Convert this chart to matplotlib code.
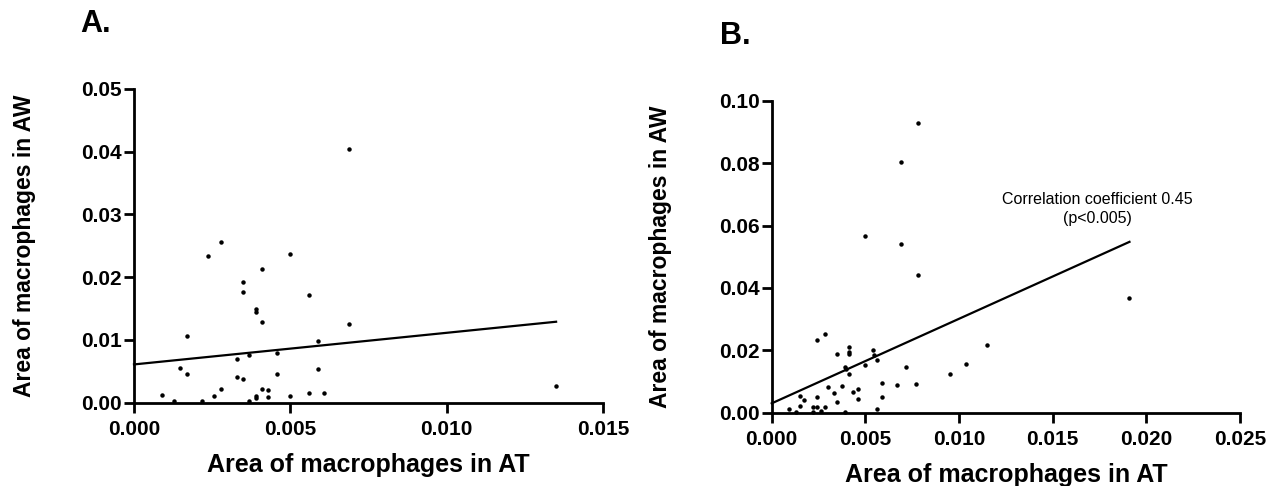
import matplotlib
matplotlib.use("Agg")
import matplotlib.pyplot as plt
import numpy as np

plt.rcParams['font.family'] = ['Liberation Sans', 'DejaVu Sans']

# Panel A data (Area of macrophages in AT vs AW)
a_x = [0.00687, 0.00278, 0.00238, 0.00500, 0.00409, 0.00348, 0.00348, 0.00559,
       0.00389, 0.00389, 0.00409, 0.00688, 0.00169, 0.00589, 0.00328, 0.00369,
       0.00458, 0.00147, 0.00169, 0.00589, 0.00458, 0.00328, 0.00348, 0.00088,
       0.00128, 0.00218, 0.00257, 0.00278, 0.00369, 0.00389, 0.00389, 0.00409,
       0.00428, 0.00428, 0.00500, 0.00559, 0.00609, 0.01350]
a_y = [0.0405, 0.0256, 0.0234, 0.0237, 0.0213, 0.0193, 0.0176, 0.0171,
       0.0149, 0.0145, 0.0128, 0.0126, 0.0106, 0.0098, 0.0069, 0.0076,
       0.0080, 0.0056, 0.0045, 0.0054, 0.0045, 0.0041, 0.0038, 0.0012,
       0.0003, 0.0003, 0.0011, 0.0022, 0.0003, 0.0011, 0.0007, 0.0022,
       0.0020, 0.0009, 0.0011, 0.0015, 0.0016, 0.0026]
a_intercept = 0.0061
a_slope = 0.504

# Panel B data
b_x = [0.00783, 0.00689, 0.00499, 0.00689, 0.00783, 0.00282, 0.00242, 0.01149,
       0.00412, 0.00412, 0.00412, 0.00350, 0.00540, 0.00544, 0.00561, 0.01039,
       0.00499, 0.00719, 0.00391, 0.00394, 0.00412, 0.00950, 0.00590, 0.00671,
       0.00773, 0.00300, 0.00373, 0.00332, 0.00432, 0.00462, 0.00151, 0.00242,
       0.00590, 0.00172, 0.00462, 0.00350, 0.00151, 0.00222, 0.00243, 0.00282,
       0.00091, 0.00261, 0.00561, 0.00130, 0.00220, 0.00391, 0.01910]
b_y = [0.0927, 0.0804, 0.0567, 0.0542, 0.0440, 0.0253, 0.0232, 0.0217,
       0.0212, 0.0194, 0.0188, 0.0189, 0.0200, 0.0184, 0.0169, 0.0155,
       0.0152, 0.0147, 0.0146, 0.0140, 0.0125, 0.0125, 0.0094, 0.0088,
       0.0091, 0.0083, 0.0085, 0.0064, 0.0066, 0.0077, 0.0053, 0.0049,
       0.0051, 0.0042, 0.0043, 0.0035, 0.0021, 0.0019, 0.0017, 0.0019,
       0.0011, 0.0007, 0.0013, 0.0001, 0.0001, 0.0003, 0.0369]
b_intercept = 0.0030
b_slope = 2.71

a_xticks = [0.0, 0.005, 0.010, 0.015]
a_xticklabels = ["0.000", "0.005", "0.010", "0.015"]
a_yticks = [0.0, 0.01, 0.02, 0.03, 0.04, 0.05]
a_yticklabels = ["0.00", "0.01", "0.02", "0.03", "0.04", "0.05"]
b_xticks = [0.0, 0.005, 0.010, 0.015, 0.020, 0.025]
b_xticklabels = ["0.000", "0.005", "0.010", "0.015", "0.020", "0.025"]
b_yticks = [0.0, 0.02, 0.04, 0.06, 0.08, 0.10]
b_yticklabels = ["0.00", "0.02", "0.04", "0.06", "0.08", "0.10"]

xlabel = "Area of macrophages in AT"
ylabel = "Area of macrophages in AW"
annot = "Correlation coefficient 0.45\n(p<0.005)"

fig = plt.figure(figsize=(12.8, 4.86), dpi=100)
axA = fig.add_axes([134/1280, 1 - 402.7/486, (603-134)/1280, (402.7-89)/486])
axB = fig.add_axes([771.7/1280, 1 - 412.7/486, (1240-771.7)/1280, (412.7-100.7)/486])


def style(ax, xt, xtl, yt, ytl, ylab_x):
    for s in ['top', 'right']:
        ax.spines[s].set_visible(False)
    for s in ['left', 'bottom']:
        ax.spines[s].set_linewidth(2.0)
    ax.set_xticks(xt)
    ax.set_xticklabels(xtl)
    ax.set_yticks(yt)
    ax.set_yticklabels(ytl)
    ax.set_xlim(xt[0], xt[-1])
    ax.set_ylim(yt[0], yt[-1])
    ax.tick_params(direction='out', length=7.5, width=2.0, labelsize=15)
    ax.tick_params(axis='y', pad=1)
    ax.tick_params(axis='x', pad=5)
    for lab in ax.get_xticklabels() + ax.get_yticklabels():
        lab.set_fontweight('bold')
    ax.set_xlabel(xlabel, fontsize=18, fontweight='bold', labelpad=10)
    ax.set_ylabel(ylabel, fontsize=16.5, fontweight='bold')
    ax.yaxis.set_label_coords(ylab_x, 0.5)


style(axA, a_xticks, a_xticklabels, a_yticks, a_yticklabels, -0.209)
style(axB, b_xticks, b_xticklabels, b_yticks, b_yticklabels, -0.213)

axA.plot(a_x, a_y, 'o', color='black', markersize=2.2, clip_on=False)
xa = np.array([0.0, max(a_x)])
axA.plot(xa, a_intercept + a_slope * xa, color='black', lw=1.6, clip_on=False)

axB.plot(b_x, b_y, 'o', color='black', markersize=2.2, clip_on=False)
xb = np.array([0.0, max(b_x)])
axB.plot(xb, b_intercept + b_slope * xb, color='black', lw=1.6, clip_on=False)

axB.text(0.0174, 0.0653, annot, ha='center', va='center', fontsize=11.5,
         linespacing=1.35)

fig.text(80/1280, 1 - 24/486, "A.", fontsize=22, fontweight='bold', va='center', ha='left')
fig.text(720/1280, 1 - 36/486, "B.", fontsize=22, fontweight='bold', va='center', ha='left')

fig.savefig("out.png", dpi=100)
